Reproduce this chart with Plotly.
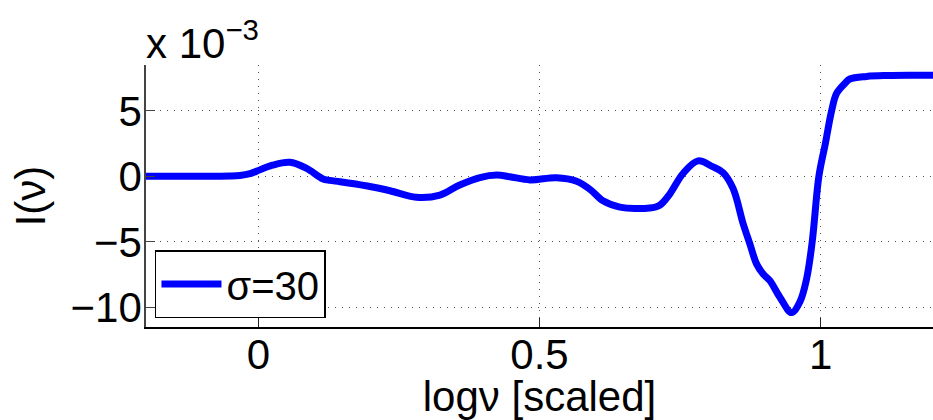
import plotly.graph_objects as go

# I(nu) curve, sigma = 30; values given in units of 1e-3
log_nu = [-0.20, -0.15, -0.104, -0.051, -0.033, -0.015, -0.004, 0.025, 0.056,
          0.085, 0.114, 0.127, 0.145, 0.194, 0.234, 0.281, 0.323, 0.358, 0.394,
          0.424, 0.447, 0.483, 0.530, 0.566, 0.590, 0.613, 0.643, 0.696,
          0.714, 0.732, 0.755, 0.782, 0.808, 0.8267, 0.8445, 0.8623,
          0.8742, 0.8861, 0.8979, 0.9098, 0.9276, 0.9484, 0.9630, 0.9751,
          0.9851, 0.9970, 1.0085, 1.0196, 1.0285, 1.0432, 1.0521, 1.0819,
          1.12, 1.16, 1.20]
intensity_e3 = [0.0, 0.0, 0.0, 0.02, 0.06, 0.2, 0.38, 0.85, 1.07,
                0.62, -0.18, -0.31, -0.41, -0.74, -1.1, -1.6, -1.43, -0.66, -0.09,
                0.1, -0.03, -0.27, -0.1, -0.37, -1.0, -1.87, -2.35, -2.42,
                -2.2, -1.33, 0.2, 1.18, 0.74, 0.28, -0.94, -3.62,
                -5.15, -6.68, -7.45, -7.96, -9.23, -10.4, -9.6, -7.83,
                -5.0, 0.0, 2.5, 5.0, 6.33, 7.09, 7.43, 7.63,
                7.7, 7.72, 7.72]

x_ticks = [0, 0.5, 1]
x_tick_labels = ["0", "0.5", "1"]
y_ticks = [-10, -5, 0, 5]
y_tick_labels = ["\u221210", "\u22125", "0", "5"]

FONT = "Liberation Sans, Arial, Helvetica, sans-serif"
GRID = dict(showgrid=True, gridcolor="#555555", griddash="1px,6px", gridwidth=1)

fig = go.Figure()
fig.add_trace(go.Scatter(
    x=log_nu, y=intensity_e3, mode="lines", name="\u03c3=30",
    line=dict(color="#0000ff", width=7, shape="spline", smoothing=1.0),
))

fig.update_layout(
    width=933, height=420,
    margin=dict(l=146, r=0, t=65, b=93),
    paper_bgcolor="white", plot_bgcolor="white",
    font=dict(family=FONT, size=42, color="black"),
    showlegend=True,
    legend=dict(
        x=0.0114, y=0.034, xanchor="left", yanchor="bottom",
        bgcolor="white", bordercolor="black", borderwidth=1.5,
        font=dict(family=FONT, size=40, color="black"),
        itemwidth=60, tracegroupgap=0,
    ),
    xaxis=dict(
        range=[-0.2, 1.2], tickmode="array", tickvals=x_ticks, ticktext=x_tick_labels,
        ticks="inside", ticklen=9, tickcolor="#222", tickwidth=1,
        showline=True, linecolor="black", linewidth=1.5, mirror=False,
        zeroline=False, ticklabelstandoff=-10,
        title=dict(text="log\u03bd [scaled]", font=dict(family=FONT, size=42), standoff=7),
        tickfont=dict(family=FONT, size=42),
        **GRID,
    ),
    yaxis=dict(
        range=[-11.5, 8.5], tickmode="array", tickvals=y_ticks, ticktext=y_tick_labels,
        ticks="inside", ticklen=9, tickcolor="#444", tickwidth=1,
        showline=True, linecolor="#444", linewidth=1.5, mirror=False,
        zeroline=False, ticklabelstandoff=-6,
        title=dict(text="I(\u03bd)", font=dict(family=FONT, size=42), standoff=12),
        tickfont=dict(family=FONT, size=42),
        **GRID,
    ),
)

# exponent multiplier for the y axis
fig.add_annotation(
    xref="paper", yref="paper", x=0.0, y=1.0, xanchor="left", yanchor="bottom",
    text="x 10<sup>\u22123</sup>", showarrow=False, yshift=-4, xshift=-2,
    font=dict(family=FONT, size=42, color="black"),
)

fig.write_html("out.html")
